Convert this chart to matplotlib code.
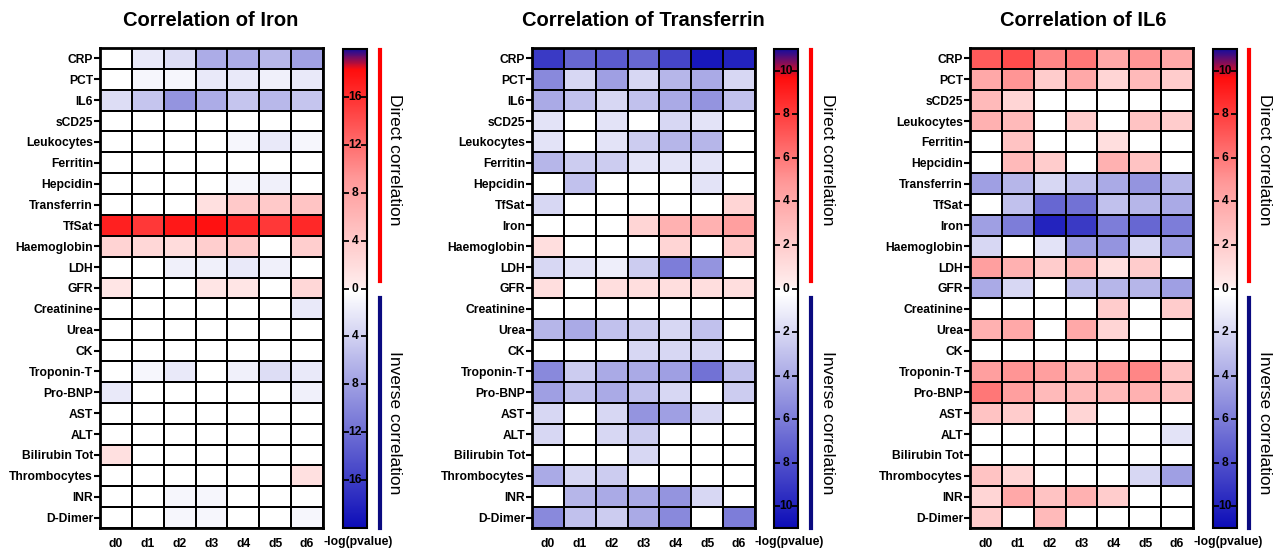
import numpy as np
import matplotlib
matplotlib.use("Agg")
import matplotlib.pyplot as plt
from matplotlib.colors import LinearSegmentedColormap, Normalize
from matplotlib.lines import Line2D

plt.rcParams['font.family'] = ['Liberation Sans', 'DejaVu Sans']

days = ['d0', 'd1', 'd2', 'd3', 'd4', 'd5', 'd6']

# signed -log(pvalue): positive = direct, negative = inverse correlation
iron_rows = ['CRP', 'PCT', 'IL6', 'sCD25', 'Leukocytes', 'Ferritin', 'Hepcidin',
             'Transferrin', 'TfSat', 'Haemoglobin', 'LDH', 'GFR', 'Creatinine',
             'Urea', 'CK', 'Troponin-T', 'Pro-BNP', 'AST', 'ALT', 'Bilirubin Tot',
             'Thrombocytes', 'INR', 'D-Dimer']
iron_vals = [
    [0, -2, -3, -7, -7, -6, -8],
    [0, -1, -1, -2, -2, -1.5, -2],
    [-3, -5, -9, -7, -5, -6, -5],
    [0, 0, 0, 0, 0, 0, 0],
    [0, 0, 0, 0, -1, -2, -1],
    [0, 0, 0, 0, 0, 0, 0],
    [0, 0, 0, 0, -1, -1.5, 0],
    [0, 0, 0, 1.5, 4, 4, 4.5],
    [17, 15.5, 17.5, 18, 16.5, 15.5, 16.5],
    [3, 2.5, 2, 3.5, 4, 0, 3.5],
    [0, 0, -1.5, -1.5, -2, -1.5, 0],
    [1, 0, 0, 1, 1, 0, 2.5],
    [0, 0, 0, 0, 0, 0, -2],
    [0, 0, 0, 0, 0, 0, 0],
    [0, 0, 0, 0, 0, 0, 0],
    [0, -1, -2, 0, -1.5, -3, -2],
    [-2, 0, 0, 0, 0, 0, -1.5],
    [0, 0, 0, 0, 0, 0, 0],
    [0, 0, 0, 0, 0, 0, 0],
    [1.5, 0, 0, 0, 0, 0, 0],
    [0, 0, 0, 0, 0, 0, 1.5],
    [0, 0, -1, -1, 0, 0, 0],
    [0, 0, -1, -1, 0, 0, -1],
]

tf_rows = ['CRP', 'PCT', 'IL6', 'sCD25', 'Leukocytes', 'Ferritin', 'Hepcidin',
           'TfSat', 'Iron', 'Haemoglobin', 'LDH', 'GFR', 'Creatinine', 'Urea',
           'CK', 'Troponin-T', 'Pro-BNP', 'AST', 'ALT', 'Bilirubin Tot',
           'Thrombocytes', 'INR', 'D-Dimer']
tf_vals = [
    [-9, -7, -7.5, -7, -8.5, -10.5, -10],
    [-5.5, -2, -4.5, -2, -3.5, -4, -2],
    [-4, -3, -2, -3, -4, -5, -3],
    [-1.5, 0, -1.5, 0, -2, -1.5, 0],
    [-1.5, 0, -1.5, -2.5, -3.5, -3.5, 0],
    [-3.5, -2.5, -2.5, -1.5, -1.5, -1.5, 0],
    [0, -3, 0, 0, 0, -1.5, 0],
    [-2, 0, 0, 0, 0, 0, 1.5],
    [0, 0, 0, 1.5, 3.5, 3.5, 4.5],
    [1, 0, 0, 0, 1.5, 0, 2],
    [-2, -1.5, -1, -2.5, -6, -5, 0],
    [1, 0, 1, 1, 1, 1, 1],
    [0, 0, 0, 0, 0, 0, 0],
    [-3.5, -4, -3, -2.5, -2, -3, 0],
    [0, 0, 0, -2, -2, -2, 0],
    [-5.5, -2.5, -4, -4, -4.5, -6.5, -3],
    [-4.5, -3, -4, -3, -2, 0, -2.5],
    [-2, 0, -2, -5, -4.5, -2, 0],
    [-2, 0, -2, -2.5, 0, 0, 0],
    [0, 0, 0, -2, 0, 0, 0],
    [-4, -2, -2.5, 0, 0, 0, 0],
    [0, -3.5, -4, -4, -5, -2, 0],
    [-5.5, -3, -2.5, -4, -5.5, 0, -6],
]

il6_rows = ['CRP', 'PCT', 'sCD25', 'Leukocytes', 'Ferritin', 'Hepcidin',
            'Transferrin', 'TfSat', 'Iron', 'Haemoglobin', 'LDH', 'GFR',
            'Creatinine', 'Urea', 'CK', 'Troponin-T', 'Pro-BNP', 'AST', 'ALT',
            'Bilirubin Tot', 'Thrombocytes', 'INR', 'D-Dimer']
il6_vals = [
    [7, 7.5, 5.5, 6, 4, 5, 4],
    [4, 5, 2, 4, 1.5, 3, 2],
    [3, 1.5, 0, 0, 0, 0, 0],
    [3.5, 3, 0, 2, 0, 2.5, 2],
    [0, 2.5, 0, 0, 1, 0, 0],
    [0, 3, 2, 0, 3.5, 2.5, 0],
    [-4.5, -3.5, -2, -3, -4, -5, -3.5],
    [0, -3, -7, -6.5, -3, -3.5, -4],
    [-4.5, -6, -10, -9, -6, -7, -6],
    [-2, 0, -1.5, -4.5, -5, -2, -4.5],
    [4.5, 3.5, 2, 3, 1, 2, 0],
    [-4, -2, 0, -3, -3.5, -3.5, -4.5],
    [0, 0, 0, 0, 2, 0, 2],
    [3.5, 4, 0, 4, 1.5, 0, 0],
    [0, 0, 0, 0, 0, 0, 0],
    [4.5, 5, 4.5, 3.5, 5, 5.5, 2.5],
    [6, 4.5, 3, 3, 3, 3.5, 2.5],
    [2.5, 2, 0, 1.5, 0, 0, 0],
    [0, 0, 0, 0, 0, 0, -1.5],
    [0, 0, 0, 0, 0, 0, 0],
    [2.5, 1.5, 0, 0, 0, -2, -4.5],
    [1.5, 4, 2.5, 3.5, 2, 0, 0],
    [2, 0, 3, 0, 0, 0, 0],
]

titles = ['Correlation of Iron', 'Correlation of Transferrin', 'Correlation of IL6']
scale_max = [20, 11, 11]
red_end = [18.3, 9.7, 9.7]
cbar_ticks = [[-16, -12, -8, -4, 0, 4, 8, 12, 16],
              [-10, -8, -6, -4, -2, 0, 2, 4, 6, 8, 10],
              [-10, -8, -6, -4, -2, 0, 2, 4, 6, 8, 10]]

W, H = 1279, 554


def fx(px):
    return px / W


def fy(py):
    return 1 - py / H


def make_cmap(V, r_end):
    nodes = [(-V, (0.05, 0.05, 0.72)),
             (-0.25, (1, 1, 1)),
             (0.0, (1, 1, 1)),
             (0.15, (1, 0.93, 0.93)),
             (r_end * 0.5, (1, 0.6, 0.6)),
             (r_end, (1, 0.05, 0.05)),
             (V, (0.08, 0.05, 0.62))]
    return LinearSegmentedColormap.from_list(
        'corr', [((v + V) / (2 * V), c) for v, c in nodes], N=1024)


fig = plt.figure(figsize=(12.79, 5.54), dpi=100)

heat_left = [100, 532, 970]
cbar_left = [343, 774, 1213]
line_x = [380, 811, 1249]
text_x = [395, 827, 1265]
title_x = [211, 643, 1083]

for k, (rows, vals) in enumerate([(iron_rows, iron_vals), (tf_rows, tf_vals),
                                  (il6_rows, il6_vals)]):
    V = scale_max[k]
    cmap = make_cmap(V, red_end[k])
    cmap.set_bad('white')
    norm = Normalize(vmin=-V, vmax=V)
    data = np.ma.masked_equal(np.array(vals, dtype=float), 0)

    ax = fig.add_axes([fx(heat_left[k]), fy(528), 223 / W, 480 / H])
    mesh = ax.pcolormesh(data, cmap=cmap, norm=norm, edgecolors='black', linewidth=1.4)
    ax.set_xlim(0, len(days))
    ax.set_ylim(len(rows), 0)
    ax.set_xticks(np.arange(len(days)) + 0.5)
    ax.set_xticklabels(days, fontsize=8.7, fontweight='bold')
    ax.set_yticks(np.arange(len(rows)) + 0.5)
    ax.set_yticklabels(rows, fontsize=8.7, fontweight='bold')
    ax.tick_params(axis='x', length=0, pad=7)
    ax.tick_params(axis='y', length=4, width=1.5, pad=1)
    for s in ax.spines.values():
        s.set_linewidth(2)

    fig.text(fx(title_x[k]), fy(20), titles[k], fontsize=14.5, fontweight='bold',
             ha='center', va='center')

    # colorbar
    cax = fig.add_axes([fx(cbar_left[k]), fy(528), 24 / W, 479 / H])
    cb = fig.colorbar(mesh, cax=cax)
    cb.outline.set_linewidth(1.5)
    ticks = cbar_ticks[k]
    cax.set_yticks(ticks)
    cax.set_yticklabels([])
    cax.tick_params(axis='y', direction='in', left=True, right=True, length=4, width=1.3)
    for t in ticks:
        cax.text(0.5, t, str(abs(t)), transform=cax.get_yaxis_transform(),
                 ha='center', va='center', fontsize=8.7, fontweight='bold')

    fig.text(fx(cbar_left[k] + 15), fy(542), '-log(pvalue)', fontsize=8.7,
             fontweight='bold', ha='center', va='center')

    fig.add_artist(Line2D([fx(line_x[k])] * 2, [fy(50), fy(281)],
                          color='#ff0000', lw=3, transform=fig.transFigure))
    fig.add_artist(Line2D([fx(line_x[k])] * 2, [fy(298), fy(528)],
                          color='#0a0a80', lw=3, transform=fig.transFigure))
    fig.text(fx(text_x[k]), fy(160), 'Direct correlation', rotation=-90,
             fontsize=12.5, ha='center', va='center')
    fig.text(fx(text_x[k]), fy(423), 'Inverse correlation', rotation=-90,
             fontsize=12.5, ha='center', va='center')

fig.savefig('out.png', dpi=100)
